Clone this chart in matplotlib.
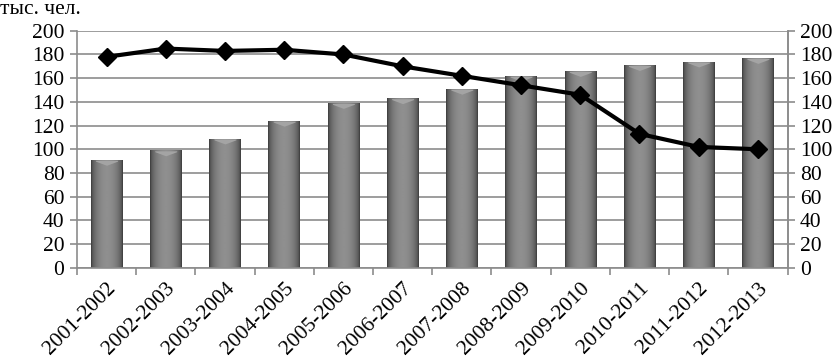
import matplotlib
matplotlib.use("Agg")
import matplotlib.pyplot as plt
import numpy as np

# Data
years = ["2001-2002", "2002-2003", "2003-2004", "2004-2005", "2005-2006", "2006-2007",
         "2007-2008", "2008-2009", "2009-2010", "2010-2011", "2011-2012", "2012-2013"]
bar_values = [91, 99, 109, 124, 139, 143, 151, 162, 166, 171, 174, 177]
line_values = [178, 185, 183, 184, 180, 170, 162, 154, 146, 113, 102, 100]
y_ticks = list(range(0, 201, 20))

plt.rcParams['font.family'] = ['Liberation Serif', 'DejaVu Serif']
plt.rcParams['font.size'] = 15.5

fig = plt.figure(figsize=(8.36, 3.58), dpi=100)
ax = fig.add_axes([0.092, 0.252, 0.850, 0.662])

x = np.arange(len(years))
bar_w = 0.53

# Grid first
ax.set_axisbelow(True)
ax.yaxis.grid(True, color="#8c8c8c", linewidth=1.2)

# Bars with cylinder-like horizontal shading
bars = ax.bar(x, bar_values, width=bar_w, color="#6e6e6e", zorder=2)
grad = np.linspace(0, 1, 64)
shade = 0.22 + 0.34 * np.sin(np.pi * grad) ** 0.5
shade = np.tile(shade, (2, 1))
for b in bars:
    x0, w, h = b.get_x(), b.get_width(), b.get_height()
    im = ax.imshow(shade, cmap="gray", vmin=0, vmax=1, aspect="auto",
                   extent=[x0, x0 + w, 0, h], zorder=2.5, interpolation="bilinear")
    im.set_clip_path(b)
    # light top bevel
    ax.fill_between([x0 + w * 0.15, x0 + w * 0.5, x0 + w * 0.85],
                    [h - 1.0, h - 4.5, h - 1.0], h - 0.3,
                    color="#a4a4a4", zorder=2.6, linewidth=0)

ax.plot(x, line_values, color="black", linewidth=3, marker="D", markersize=9,
        zorder=4, clip_on=False)

ax.set_xlim(-0.5, len(years) - 0.5)
ax.set_ylim(0, 200)
ax.set_yticks(y_ticks)
ax.set_xticks(np.arange(len(years) + 1) - 0.5, minor=True)
ax.set_xticks(x)
ax.set_xticklabels(years, rotation=45, ha="right", rotation_mode="anchor")
ax.tick_params(axis="x", which="major", length=0, pad=8)
ax.tick_params(axis="x", which="minor", length=5, color="#8c8c8c", width=1.2)
ax.tick_params(axis="y", length=5, color="#8c8c8c", width=1.2, pad=4)

ax.spines["top"].set_visible(False)
for side in ["left", "right", "bottom"]:
    ax.spines[side].set_color("#8c8c8c")
    ax.spines[side].set_linewidth(1.2)

ax2 = ax.twinx()
ax2.set_ylim(0, 200)
ax2.set_yticks(y_ticks)
ax2.tick_params(axis="y", length=5, color="#8c8c8c", width=1.2, pad=4)
for side in ["top", "left", "bottom"]:
    ax2.spines[side].set_visible(False)
ax2.spines["right"].set_color("#8c8c8c")
ax2.spines["right"].set_linewidth(1.2)

fig.text(0.0, 1.0, "тыс. чел.", ha="left", va="top", fontsize=15.5)

fig.savefig("out.png", dpi=100)
